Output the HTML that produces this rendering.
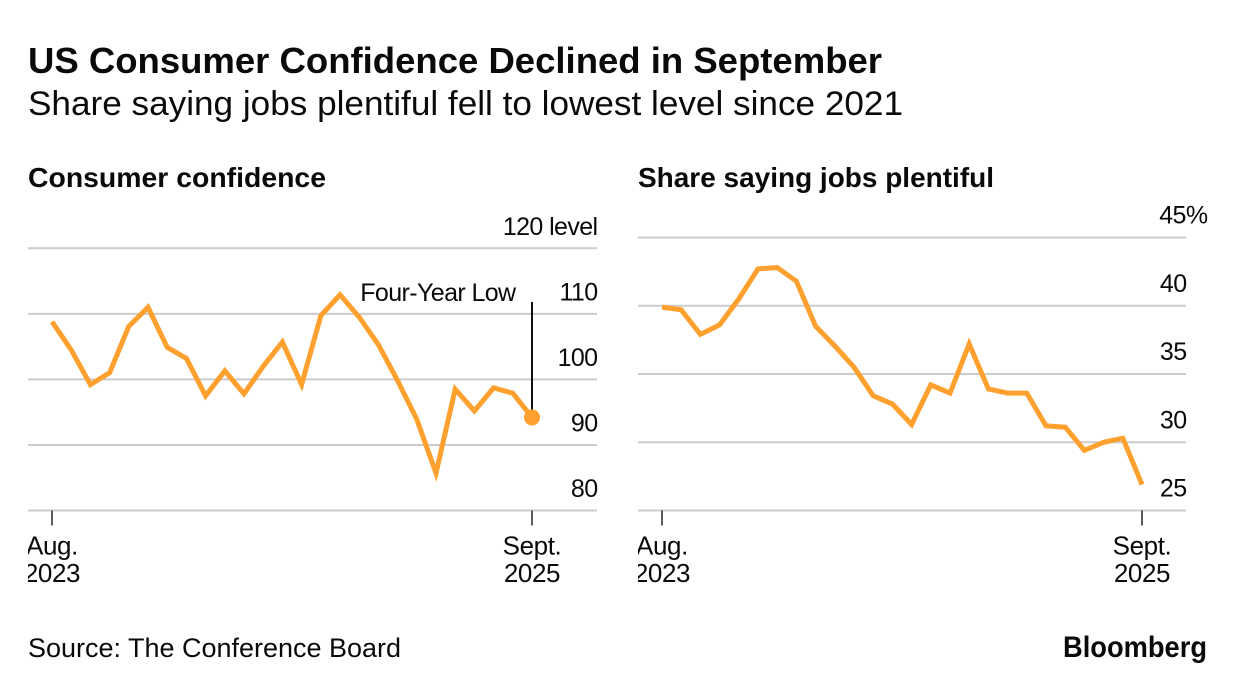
<!DOCTYPE html>
<html lang="en">
<head>
<meta charset="utf-8">
<title>US Consumer Confidence Declined in September</title>
<style>
  html, body { margin: 0; padding: 0; background: #fff; }
  body { width: 1236px; height: 690px; overflow: hidden; }
  svg { display: block; font-family: "Liberation Sans", Arial, sans-serif; fill: #0a0a0a; }
  .axis-text { font-size: 25px; letter-spacing: -0.6px; }
  .date-text { font-size: 26px; letter-spacing: -0.4px; }
</style>
</head>
<body>
<svg id="figure" width="1236" height="690" viewBox="0 0 1236 690" xmlns="http://www.w3.org/2000/svg">
  <defs>
    <clipPath id="clip-left"><rect x="28" y="200" width="580" height="400"/></clipPath>
    <clipPath id="clip-right"><rect x="638" y="200" width="580" height="400"/></clipPath>
  </defs>
  <rect width="1236" height="690" fill="#fff"/>
  <text x="28" y="73" font-size="36" font-weight="700" textLength="854" lengthAdjust="spacingAndGlyphs">US Consumer Confidence Declined in September</text>
  <text x="28" y="115" font-size="34" textLength="875" lengthAdjust="spacingAndGlyphs">Share saying jobs plentiful fell to lowest level since 2021</text>
  <text x="28" y="187" font-size="28" font-weight="700" textLength="298" lengthAdjust="spacingAndGlyphs">Consumer confidence</text>
  <text x="638" y="187" font-size="28" font-weight="700" textLength="356" lengthAdjust="spacingAndGlyphs">Share saying jobs plentiful</text>
  <g id="left-panel"></g>
  <g id="right-panel"></g>
  <text x="28" y="657" font-size="27" textLength="373" lengthAdjust="spacingAndGlyphs">Source: The Conference Board</text>
  <text x="1063" y="657" font-size="30" font-weight="700" textLength="144" lengthAdjust="spacingAndGlyphs">Bloomberg</text>
</svg>
<script>
var months = ['2023-08','2023-09','2023-10','2023-11','2023-12','2024-01','2024-02','2024-03','2024-04','2024-05','2024-06','2024-07','2024-08','2024-09','2024-10','2024-11','2024-12','2025-01','2025-02','2025-03','2025-04','2025-05','2025-06','2025-07','2025-08','2025-09'];
var confidenceValues = [108.8,104.5,99.2,101,108.1,111,104.9,103.2,97.5,101.3,97.8,102,105.7,99.2,109.7,112.9,109.5,105.3,99.8,93.9,85.7,98.5,95.2,98.7,97.9,94.2];
var plentifulValues = [39.9,39.7,37.9,38.6,40.5,42.7,42.8,41.8,38.5,37.05,35.5,33.4,32.8,31.3,34.2,33.6,37.2,33.9,33.6,33.6,31.2,31.1,29.4,30,30.3,26.9];
var confidenceTicks = [80,90,100,110,120];
var plentifulTicks = [25,30,35,40,45];
var confidenceTickLabels = ['80','90','100','110','120 level'];
var plentifulTickLabels = ['25','30','35','40','45%'];
var startDateLabels = ['Aug.','2023'];
var endDateLabels = ['Sept.','2025'];

var SVG_NS = 'http://www.w3.org/2000/svg';

function scaleLinear(d0, d1, r0, r1) {
  return function (v) { return r0 + (v - d0) * (r1 - r0) / (d1 - d0); };
}
function makeEl(tag, parent, attrs) {
  var el = document.createElementNS(SVG_NS, tag);
  for (var k in attrs) { el.setAttribute(k, attrs[k]); }
  parent.appendChild(el);
  return el;
}

function drawPanel(cfg) {
  var g = document.getElementById(cfg.id);
  var n = months.length;
  var x = scaleLinear(0, n - 1, cfg.x0, cfg.x1);
  var y = scaleLinear(cfg.ticks[0], cfg.ticks[cfg.ticks.length - 1], cfg.yBottom, cfg.yTop);

  cfg.ticks.forEach(function (t, i) {
    var line = makeEl('line', g, { x1: cfg.left, x2: cfg.right, y1: y(t), y2: y(t), stroke: '#cccccc', 'stroke-width': 2 });
    
    
    var labelEnd = (i === cfg.ticks.length - 1) ? cfg.topLabelEnd : cfg.labelEnd;
    var label = makeEl('text', g, { x: labelEnd + 0.5, y: y(t) - cfg.labelGap, 'text-anchor': 'end', 'class': 'axis-text' });
    label.textContent = cfg.tickLabels[i];
    
    
  });

  [0, n - 1].forEach(function (idx) {
    var tick = makeEl('line', g, { x1: x(idx), x2: x(idx), y1: cfg.yBottom, y2: cfg.yBottom + 15, stroke: '#333', 'stroke-width': 1.6 });
    
    
    var lines = idx === 0 ? startDateLabels : endDateLabels;
    lines.forEach(function (s, j) {
      var lab = makeEl('text', g, { x: x(idx), y: 554.5 + j * 27.5, 'text-anchor': 'middle', 'class': 'date-text', 'clip-path': 'url(#' + cfg.clip + ')' });
      lab.textContent = s;
      
      
    });
  });

  var pts = cfg.values.map(function (v, i) { return x(i).toFixed(1) + ',' + y(v).toFixed(1); }).join(' ');
  var path = makeEl('polyline', g, { points: pts, fill: 'none', stroke: '#ffa02f', 'stroke-width': 5, 'stroke-linejoin': 'miter', 'stroke-miterlimit': 4, 'stroke-linecap': 'butt' });
  
  

  if (cfg.annotation) {
    var lastX = x(n - 1), lastY = y(cfg.values[n - 1]);
    var leader = makeEl('line', g, { x1: lastX, x2: lastX, y1: 302, y2: lastY, stroke: '#111', 'stroke-width': 2 });
    
    
    var dot = makeEl('circle', g, { cx: lastX, cy: lastY, r: 8, fill: '#ffa02f' });
    
    
    var note = makeEl('text', g, { x: 515.5, y: 301, 'text-anchor': 'end', 'class': 'axis-text' });
    note.textContent = cfg.annotation;
    
    
  }
}

drawPanel({ id: 'left-panel', clip: 'clip-left', values: confidenceValues, ticks: confidenceTicks, tickLabels: confidenceTickLabels,
  left: 28, right: 597, x0: 52, x1: 532, yBottom: 510.5, yTop: 248.3, labelEnd: 597, topLabelEnd: 597, labelGap: 13.5, annotation: 'Four-Year Low' });
drawPanel({ id: 'right-panel', clip: 'clip-right', values: plentifulValues, ticks: plentifulTicks, tickLabels: plentifulTickLabels,
  left: 638, right: 1186, x0: 662, x1: 1142, yBottom: 510.5, yTop: 237.5, labelEnd: 1186, topLabelEnd: 1207, labelGap: 14 });
</script>
</body>
</html>
